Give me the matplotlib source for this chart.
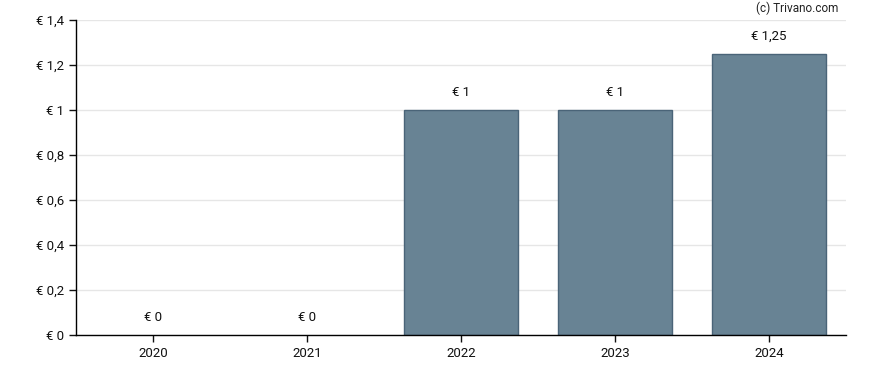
import matplotlib
matplotlib.use("Agg")
import matplotlib.pyplot as plt

years = ["2020", "2021", "2022", "2023", "2024"]
dividends = [0, 0, 1, 1, 1.25]
bar_labels = ["€ 0", "€ 0", "€ 1", "€ 1", "€ 1,25"]
y_ticks = [0, 0.2, 0.4, 0.6, 0.8, 1.0, 1.2, 1.4]
y_tick_labels = ["€ 0", "€ 0,2", "€ 0,4", "€ 0,6", "€ 0,8", "€ 1", "€ 1,2", "€ 1,4"]

plt.rcParams['font.family'] = ['Roboto', 'DejaVu Sans']

fig = plt.figure(figsize=(8.88, 3.7), dpi=100)
ax = fig.add_axes([76 / 888, 35 / 370, 770 / 888, 315 / 370])

x = range(len(years))
bars = [v if v > 0 else 0 for v in dividends]
ax.bar(x, bars, width=0.74, color="#688394",
       edgecolor=["none" if v == 0 else "#4a6478" for v in dividends],
       linewidth=1, zorder=2)

for i, (v, lab) in enumerate(zip(dividends, bar_labels)):
    ax.annotate(lab, (i, v), xytext=(0, 12.5), textcoords="offset points",
                ha="center", va="center", fontsize=9.5, color="#111111")

ax.set_xlim(-0.5, 4.5)
ax.set_ylim(0, 1.4)
ax.set_xticks(list(x))
ax.set_xticklabels(years)
ax.set_yticks(y_ticks)
ax.set_yticklabels(y_tick_labels)
ax.tick_params(axis="both", labelsize=9.5, length=5, width=1, colors="#111111")
ax.grid(axis="y", color="#e6e6e6", linewidth=1, zorder=0)
ax.set_axisbelow(True)
for side in ["top", "right"]:
    ax.spines[side].set_visible(False)
for side in ["left", "bottom"]:
    ax.spines[side].set_color("black")
    ax.spines[side].set_linewidth(1)

fig.text(838 / 888, 1 - 8 / 370, "(c) Trivano.com", ha="right", va="center", fontsize=8.5, color="#222222")

fig.savefig("out.png", dpi=100)
